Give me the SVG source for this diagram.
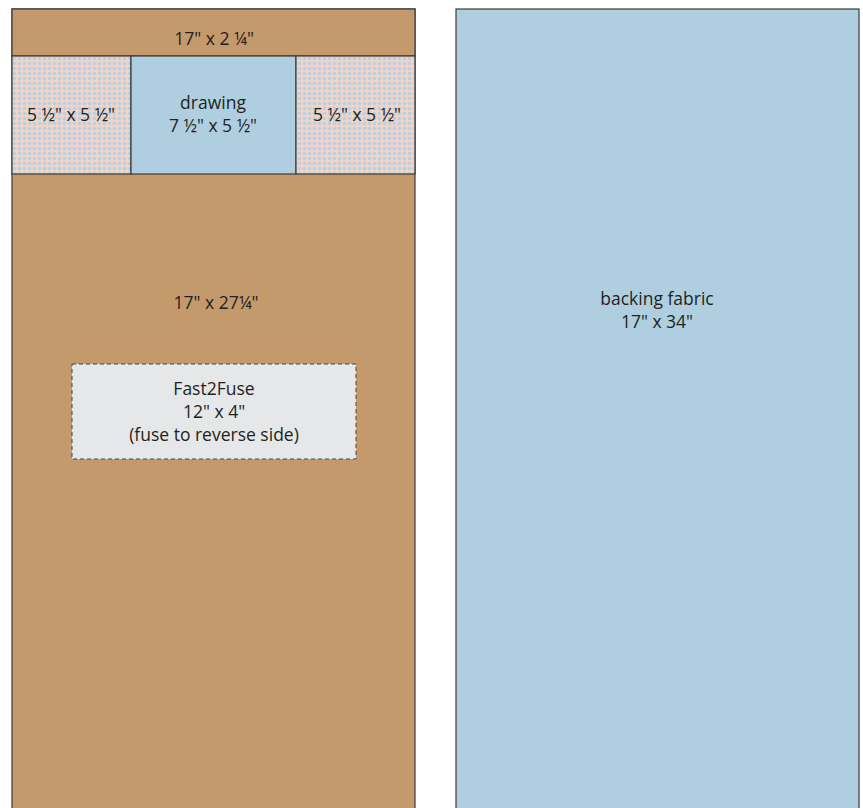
<svg xmlns="http://www.w3.org/2000/svg" width="863" height="808" viewBox="0 0 863 808">
<style>
.t{font-family:"Open Sans","Noto Sans",sans-serif;font-size:17.5px;fill:#231f20;text-anchor:middle}
.ln{stroke:#3a3a3a;stroke-width:1.2}
</style>
<defs>
<pattern id="dots" x="12" y="56" width="5" height="5" patternUnits="userSpaceOnUse">
<rect width="5" height="5" fill="#f2d3c8"/>
<circle cx="2.5" cy="2.5" r="1.7" fill="#b2d2e6"/>
</pattern>
</defs>
<rect width="863" height="808" fill="#fff"/>
<g id="left-panel">
<rect x="12" y="9" width="403" height="810" fill="#c49a6c" class="ln"/>
</g>
<g id="top-strip">
<rect x="12" y="9" width="403" height="47" fill="#c49a6c" class="ln"/>
<text class="t" x="214" y="45">17" x 2 ¼"</text>
</g>
<g id="square-left">
<rect x="12" y="56" width="119" height="118" fill="url(#dots)" class="ln"/>
<text class="t" x="71" y="121">5 ½" x 5 ½"</text>
</g>
<g id="drawing">
<rect x="131" y="56" width="165" height="118" fill="#afcfe0" class="ln"/>
<text class="t" x="213" y="109">drawing</text>
<text class="t" x="213" y="132">7 ½" x 5 ½"</text>
</g>
<g id="square-right">
<rect x="296" y="56" width="119" height="118" fill="url(#dots)" class="ln"/>
<text class="t" x="357" y="121">5 ½" x 5 ½"</text>
</g>
<g id="main-label">
<text class="t" x="216" y="309">17" x 27¼"</text>
</g>
<g id="fast2fuse">
<rect x="72" y="364" width="284" height="95" fill="#e6e7e9" stroke="#444" stroke-width="1" stroke-dasharray="4,3"/>
<text class="t" x="214" y="395">Fast2Fuse</text>
<text class="t" x="214" y="418">12" x 4"</text>
<text class="t" x="214" y="441">(fuse to reverse side)</text>
</g>
<g id="backing">
<rect x="456" y="9" width="403" height="810" fill="#afcfe0" class="ln"/>
<text class="t" x="657" y="305">backing fabric</text>
<text class="t" x="657" y="328">17" x 34"</text>
</g>
<g id="connectors"/>
</svg>
